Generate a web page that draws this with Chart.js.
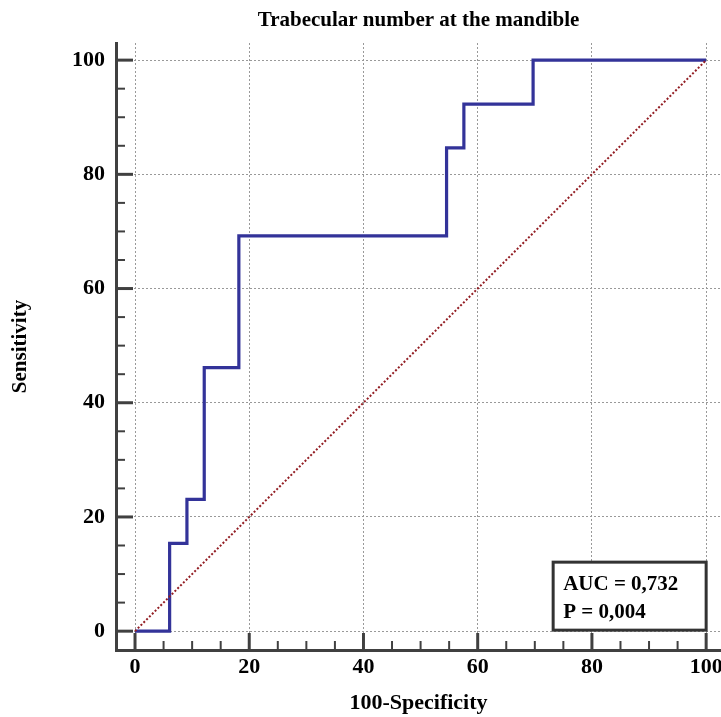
<!DOCTYPE html>
<html><head><meta charset="utf-8">
<script src="https://cdn.jsdelivr.net/npm/chart.js@4/dist/chart.umd.min.js"></script>
<style>html,body{margin:0;padding:0;background:#fff}#wrap{width:721px;height:717px}</style>
</head><body><div id="wrap"><canvas id="c" width="721" height="717"></canvas></div>
<script>
// ROC curve points (100-Specificity, Sensitivity)
const rocX = [0, 6.06, 9.09, 12.12, 18.18, 54.55, 57.58, 69.70, 100];
const rocY = [0, 15.38, 23.08, 46.15, 69.23, 84.62, 92.31, 100, 100];
// reference (chance) diagonal
const refX = [0, 100];
const refY = [0, 100];
const tickValues = [0, 20, 40, 60, 80, 100];
const minorStep = 5;
const chartTitle = 'Trabecular number at the mandible';
const xTitle = '100-Specificity';
const yTitle = 'Sensitivity';
const statLines = ['AUC = 0,732', 'P = 0,004'];

const SERIF = '"Liberation Serif", "Times New Roman", serif';
const AXIS_COL = '#404040';

const ticksPlugin = {
  id: 'ticksAndBox',
  afterDraw(chart) {
    const ctx = chart.ctx;
    const xs = chart.scales.x, ys = chart.scales.y;
    const ca = chart.chartArea;
    ctx.save();
    ctx.strokeStyle = AXIS_COL;
    for (let v = 0; v <= 100; v += minorStep) {
      const major = tickValues.includes(v);
      const px = xs.getPixelForValue(v);
      ctx.lineWidth = major ? 3 : 2;
      ctx.beginPath();
      ctx.moveTo(px, ca.bottom);
      ctx.lineTo(px, ca.bottom - (major ? 17 : 9));
      ctx.stroke();
      const py = ys.getPixelForValue(v);
      ctx.beginPath();
      ctx.moveTo(ca.left, py);
      ctx.lineTo(ca.left + (major ? 17 : 9), py);
      ctx.stroke();
    }
    // statistics box
    const right = xs.getPixelForValue(100);
    const bottom = ys.getPixelForValue(0) - 1;
    const w = 153, h = 68;
    ctx.fillStyle = '#fff';
    ctx.fillRect(right - w, bottom - h, w, h);
    ctx.lineWidth = 3;
    ctx.strokeStyle = '#333';
    ctx.strokeRect(right - w, bottom - h, w, h);
    ctx.fillStyle = '#000';
    ctx.font = 'bold 21px ' + SERIF;
    ctx.textAlign = 'left';
    ctx.textBaseline = 'alphabetic';
    ctx.fillText(statLines[0], right - w + 10, bottom - h + 28);
    ctx.fillText(statLines[1], right - w + 10, bottom - h + 56);
    ctx.restore();
  }
};

new Chart(document.getElementById('c'), {
  type: 'line',
  data: {
    datasets: [
      {
        data: refX.map((x, i) => ({x, y: refY[i]})),
        borderColor: '#931e24',
        borderWidth: 2,
        borderDash: [2, 2],
        pointRadius: 0,
        fill: false
      },
      {
        data: rocX.map((x, i) => ({x, y: rocY[i]})),
        borderColor: '#333399',
        borderWidth: 3.2,
        stepped: true,
        pointRadius: 0,
        fill: false
      }
    ]
  },
  options: {
    responsive: false,
    animation: false,
    devicePixelRatio: 1,
    layout: {padding: 0},
    plugins: {
      legend: {display: false},
      tooltip: {enabled: false},
      title: {
        display: true, text: chartTitle, fullSize: false, color: '#000',
        font: {family: SERIF, size: 21, weight: 'bold', lineHeight: 1.2},
        padding: {top: 8, bottom: 9.8}
      }
    },
    scales: {
      x: {
        type: 'linear', min: -3.33, max: 102.6,
        afterBuildTicks: s => { s.ticks = tickValues.map(v => ({value: v})); },
        afterFit: s => { s.height = 67; s.paddingLeft = 0; s.paddingRight = 0; },
        grid: {color: '#999999', lineWidth: 1, drawTicks: false},
        border: {display: true, color: AXIS_COL, width: 3, dash: [2, 2]},
        ticks: {padding: 4, color: '#000', maxRotation: 0, autoSkip: false,
          font: {family: SERIF, size: 22, weight: 'bold', lineHeight: 1.2}},
        title: {display: true, text: xTitle, color: '#000',
          font: {family: SERIF, size: 22, weight: 'bold', lineHeight: 1.2},
          padding: {top: 0, bottom: 0}}
      },
      y: {
        type: 'linear', min: -3.3, max: 103,
        afterBuildTicks: s => { s.ticks = tickValues.map(v => ({value: v})); },
        afterFit: s => { s.width = 116; s.paddingTop = 0; s.paddingBottom = 0; },
        grid: {color: '#999999', lineWidth: 1, drawTicks: false},
        border: {display: true, color: AXIS_COL, width: 3, dash: [2, 2]},
        ticks: {padding: 11, color: '#000', autoSkip: false,
          font: {family: SERIF, size: 22, weight: 'bold', lineHeight: 1.2}},
        title: {display: true, text: yTitle, color: '#000',
          font: {family: SERIF, size: 21, weight: 'bold', lineHeight: 1.2},
          padding: {top: 8, bottom: 0}}
      }
    }
  },
  plugins: [ticksPlugin]
});
</script></body></html>
